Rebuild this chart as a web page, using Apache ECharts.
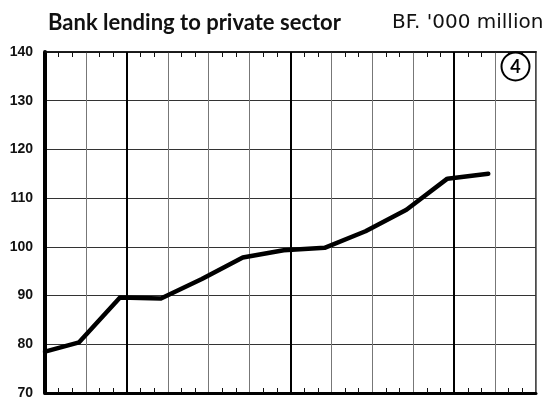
<!DOCTYPE html>
<html>
<head>
<meta charset="utf-8">
<script src="https://cdn.jsdelivr.net/npm/echarts@6/dist/echarts.min.js"></script>
<style>
  html, body { margin: 0; padding: 0; background: #fff; }
  #chart { width: 551px; height: 400px; }
</style>
</head>
<body>
<div id="chart"></div>
<script>
// Months from the start of the period (quarter-end readings, mid-month)
const months = [0, 2.5, 5.5, 8.5, 11.5, 14.5, 17.5, 20.5, 23.5, 26.5, 29.5, 32.5];
// Bank lending to private sector, BF. '000 million
const lending = [78.5, 80.4, 89.6, 89.4, 93.4, 97.8, 99.3, 99.8, 103.2, 107.6, 114.0, 115.0];
// Year boundaries (months)
const yearMarks = [6, 18, 30];
const yTicks = [70, 80, 90, 100, 110, 120, 130, 140];

const chart = echarts.init(document.getElementById('chart'), null, { renderer: 'canvas' });

const xBase = {
  type: 'value', min: 0, max: 36, interval: 3,
  axisLabel: { show: false },
  axisTick: { show: false, inside: true },
  minorTick: { show: true, splitNumber: 3, length: 5, lineStyle: { color: '#111', width: 1 } },
  minorSplitLine: { show: false }
};

chart.setOption({
  animation: false,
  backgroundColor: '#fff',
  grid: { left: 45, right: 15, top: 52, bottom: 2, show: true, borderColor: '#111', borderWidth: 1.5 },
  xAxis: [
    Object.assign({}, xBase, {
      position: 'bottom',
      axisLine: { show: true, onZero: false, lineStyle: { color: '#000', width: 3 } },
      splitLine: { show: true, lineStyle: { color: '#777', width: 1 } }
    }),
    Object.assign({}, xBase, {
      position: 'top',
      axisLine: { show: true, onZero: false, lineStyle: { color: '#111', width: 1.5 } },
      splitLine: { show: false }
    })
  ],
  yAxis: {
    type: 'value', min: yTicks[0], max: yTicks[yTicks.length - 1], interval: 10,
    axisLine: { show: true, lineStyle: { color: '#000', width: 4 } },
    axisTick: { show: false },
    splitLine: { show: true, lineStyle: { color: '#333', width: 1.2 } },
    axisLabel: {
      margin: 12, color: '#111', fontSize: 14, fontWeight: 'bold',
      fontFamily: 'Liberation Sans', verticalAlign: 'middle', padding: [0, 0, 8, 0]
    }
  },
  graphic: [
    { type: 'text', x: 48, y: 22.5,
      style: { text: 'Bank lending to private sector', font: 'bold 22px Lato', fill: '#111', verticalAlign: 'middle' } },
    { type: 'text', x: 392, y: 23,
      style: { text: "BF. '000 million", font: '20px "DejaVu Sans"', fill: '#111', verticalAlign: 'middle' } },
    { type: 'circle', shape: { cx: 515.5, cy: 66.5, r: 14 }, z: 100,
      style: { fill: '#fff', stroke: '#000', lineWidth: 2 } },
    { type: 'text', x: 515.5, y: 67.5, z: 101,
      style: { text: '4', font: 'bold 18px Lato', fill: '#000', align: 'center', verticalAlign: 'middle' } }
  ],
  series: [{
    type: 'line',
    data: months.map((m, i) => [m, lending[i]]),
    showSymbol: false,
    lineStyle: { color: '#000', width: 4.5, join: 'round', cap: 'round' },
    z: 5,
    markLine: {
      silent: true, symbol: ['none', 'none'], label: { show: false },
      lineStyle: { color: '#000', width: 2, type: 'solid' },
      data: yearMarks.map(m => ({ xAxis: m }))
    }
  }]
});
</script>
</body>
</html>
